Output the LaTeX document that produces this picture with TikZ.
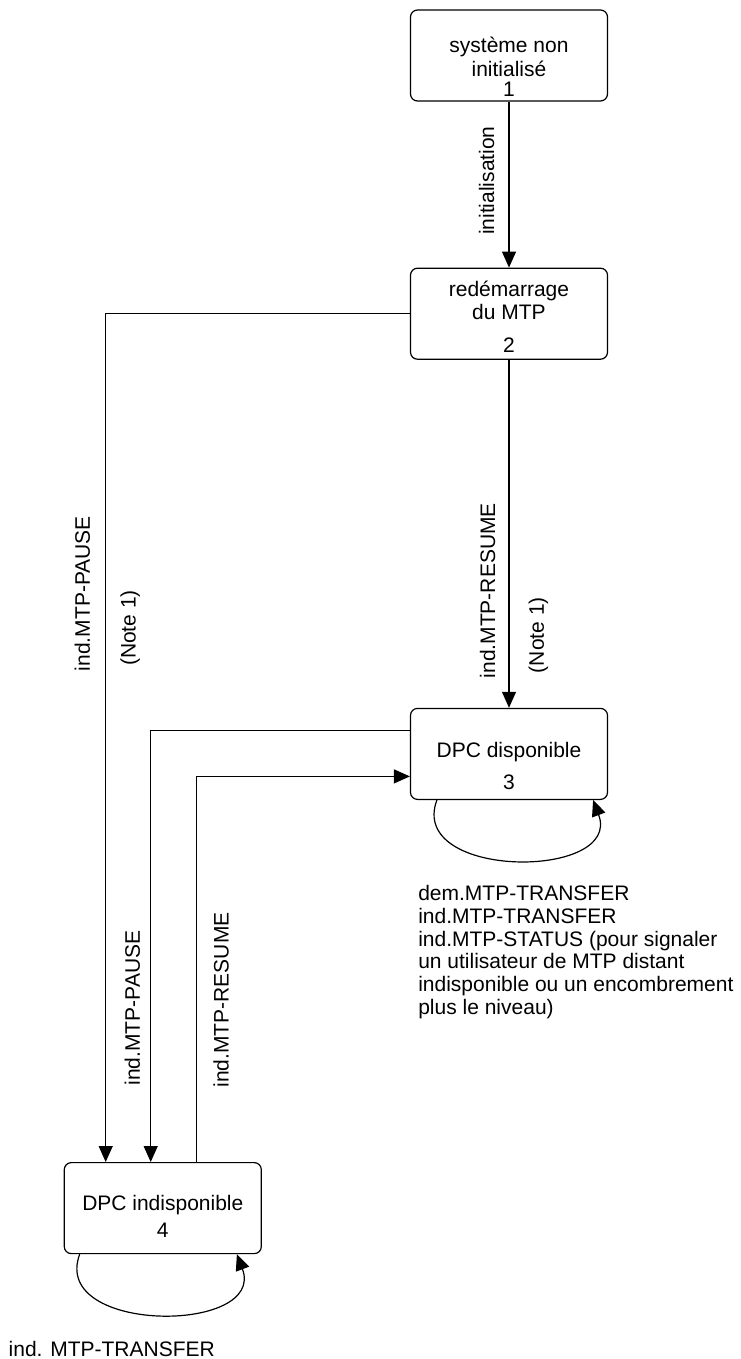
\documentclass[tikz,border=0pt]{standalone}
\usepackage{fontspec}
\setmainfont{Liberation Sans}
\usetikzlibrary{
  arrows.meta, % for the Triangle arrow tip
  positioning, % for relative positioning of the states
}
\tikzset{
  state/.style={ % style for each state
    rectangle,draw,line width=0.6pt, % drawn as a thin box
    rounded corners=3.5pt, % with slightly rounded corners
    inner sep=0pt, % the strut in the first line sets the text height
    minimum width=98.5pt, % every state has the same size
    minimum height=45.5pt,
    align=center, % lines are centred
    font=\fontsize{10.5}{11.5}\selectfont,
  },
  note/.style={ % style for the texts below the self loops
    inner sep=0pt, % no padding round the text
    align=left, % lines start at the same place
    font=\fontsize{10.5}{11.35}\selectfont,
  },
  lbl/.style={ % style for the labels along the connections
    rotate=90, % read from bottom to top
    inner xsep=0pt, % no padding along the text
    font=\fontsize{10.5}{11.35}\selectfont,
  },
  conn/.style={ % style for the connections
    -{Triangle[length=8pt,width=7pt]}, % filled triangle tip
    line width=0.6pt, % same weight as the boxes
  },
}

\begin{document}
\begin{tikzpicture}

	\useasboundingbox (0,0) rectangle (370pt,-679.5pt);

	\node[state] (s1) at (254.5pt,-27.75pt) {\rule{0pt}{19.5pt}système non\\[0.5pt]initialisé\\[-1.5pt]1};
	\node[state,below=83pt of s1] (s2) {\rule{0pt}{10.5pt}redémarrage\\du MTP\\[5pt]2};
	\node[state,below=174pt of s2] (s3) {\rule{0pt}{19.5pt}DPC disponible\\[4.5pt]3};
	\node[state,below left=181pt and 74pt of s3] (s4) {\rule{0pt}{16pt}DPC indisponible\\[2pt]4};

	\node[note,below right=42.5pt and 4pt of s3.south west] (n3) {dem.MTP-TRANSFER\\ind.MTP-TRANSFER\\ind.MTP-STATUS (pour signaler\\un utilisateur de MTP distant\\indisponible ou un encombrement\\plus le niveau)};
	\node[note,below right=43.4pt and -27.7pt of s4.south west] (n4) {ind. MTP-TRANSFER};

	\draw[conn] (s1) -- node[lbl,pos=.476,anchor=south,inner ysep=7pt] {initialisation} (s2);
	\draw[conn] (s2) --
		node[lbl,pos=.917,anchor=south west,inner ysep=6.5pt] {ind.MTP-RESUME}
		node[lbl,pos=.902,anchor=north west,inner ysep=9.5pt] {(Note 1)} (s3);
	\draw[conn] (s2.west) -|
		node[lbl,pos=.711,anchor=south west,inner ysep=7.5pt] {ind.MTP-PAUSE}
		node[lbl,pos=.708,anchor=north west,inner ysep=7pt] {(Note 1)} ([xshift=21pt]s4.north west);
	\draw[conn] ([yshift=11.75pt]s3.west) -|
		node[lbl,pos=.912,anchor=south west,inner ysep=5pt] {ind.MTP-PAUSE} ([xshift=43.5pt]s4.north west);
	\draw[conn] ([xshift=66.5pt]s4.north west) |-
		node[lbl,pos=.096,anchor=north west,inner ysep=8pt] {ind.MTP-RESUME} ([yshift=-11.25pt]s3.west);

	% self loops
	\draw[conn] ([xshift=13.5pt]s3.south west) .. controls ([xshift=-1.5pt,yshift=-40pt]s3.south west) and ([xshift=7.5pt,yshift=-40pt]s3.south east) .. ([xshift=-7.5pt]s3.south east);
	\draw[conn] ([xshift=8pt]s4.south west) .. controls ([xshift=-7pt,yshift=-40pt]s4.south west) and ([xshift=2.5pt,yshift=-40pt]s4.south east) .. ([xshift=-12.5pt]s4.south east);

\end{tikzpicture}
\end{document}
